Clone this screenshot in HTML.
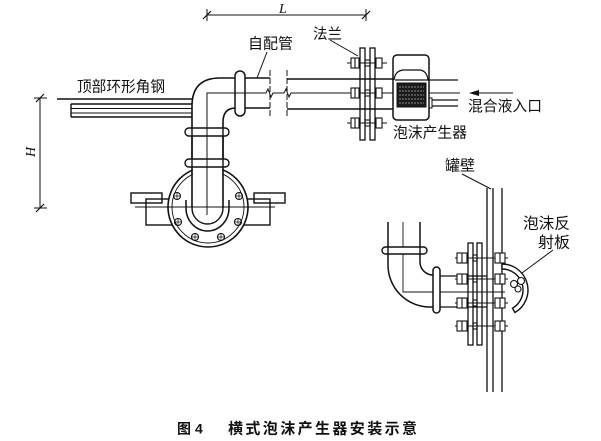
<!DOCTYPE html>
<html><head><meta charset="utf-8">
<style>
html,body{margin:0;padding:0;background:#fff;}
svg{display:block}
text{font-family:"Liberation Sans","Noto Sans CJK SC",sans-serif;fill:#111;}
</style></head><body>
<svg width="601" height="441" viewBox="0 0 601 441" xmlns="http://www.w3.org/2000/svg">
<rect width="601" height="441" fill="#fff"/>
<g stroke="#111" stroke-width="1.4" fill="none">

<!-- L dimension -->
<line x1="207" y1="15" x2="366" y2="15" stroke-width="1"/>
<line x1="207" y1="9" x2="207" y2="21" stroke-width="1"/>
<line x1="366" y1="9" x2="366" y2="21" stroke-width="1"/>
<line x1="203" y1="19" x2="211" y2="11" stroke-width="1.2"/>
<line x1="362" y1="19" x2="370" y2="11" stroke-width="1.2"/>

<!-- H dimension -->
<line x1="40" y1="98" x2="40" y2="208" stroke-width="1"/>
<line x1="34" y1="98" x2="47" y2="98" stroke-width="1"/>
<line x1="34" y1="208" x2="47" y2="208" stroke-width="1"/>
<line x1="36" y1="102" x2="44" y2="94" stroke-width="1.2"/>
<line x1="36" y1="212" x2="44" y2="204" stroke-width="1.2"/>

<!-- angle steel -->
<line x1="57" y1="99" x2="193" y2="99"/>
<line x1="71" y1="104" x2="192" y2="104"/>
<line x1="71" y1="108.5" x2="192" y2="108.5" stroke-width="1"/>
<line x1="71" y1="113" x2="192" y2="113" stroke-width="1"/>
<line x1="71" y1="117" x2="192" y2="117"/>
<line x1="71" y1="104" x2="71" y2="117"/>

<!-- bottom view brackets -->
<rect x="131" y="193" width="31" height="10"/>
<rect x="146" y="199" width="28" height="26"/>
<rect x="254" y="193" width="31" height="10"/>
<rect x="242" y="199" width="28" height="26"/>

<!-- bottom view flange circle -->
<circle cx="208" cy="207" r="40" fill="#fff" stroke-width="1.6"/>
<circle cx="208" cy="207" r="36" stroke-width="0.9"/>
<g stroke-width="1.1">
<circle cx="177" cy="196" r="3.5"/><circle cx="239" cy="196" r="3.5"/>
<circle cx="178" cy="222" r="3.5"/><circle cx="238" cy="222" r="3.5"/>
<circle cx="195" cy="237" r="3.5"/><circle cx="221" cy="237" r="3.5"/>
<path d="M174,196h6M177,193v6M236,196h6M239,193v6M175,222h6M178,219v6M235,222h6M238,219v6M192,237h6M195,234v6M218,237h6M221,234v6" stroke-width="0.7"/>
</g>
<rect x="192.8" y="160" width="29.4" height="50" fill="#fff" stroke="none"/>
<path d="M186,200 L186,208 A21.5,23 0 0 0 229,208 L229,200" stroke-width="1.5"/>
<path d="M192,208 A15.5,16 0 0 0 223,208"/>

<!-- elbow top-left -->
<path d="M192,208 L192,106 Q192,78 220,78 L235,78" stroke-width="1.6"/>
<path d="M223,208 L223,122 Q223,108 236,108" stroke-width="1.6"/>
<rect x="185" y="128" width="44" height="8" rx="4" fill="#fff"/>
<rect x="185" y="159" width="44" height="8" rx="4" fill="#fff"/>
<line x1="192" y1="128" x2="192" y2="167"/>
<line x1="223" y1="128" x2="223" y2="167"/>
<rect x="235" y="71" width="10" height="45" rx="5" fill="#fff" stroke-width="1.5"/>
<line x1="245" y1="78" x2="270" y2="78"/>
<line x1="245" y1="108" x2="270" y2="108"/>
<line x1="287" y1="79" x2="393" y2="79" stroke-width="1.5"/>
<line x1="287" y1="109" x2="393" y2="109" stroke-width="1.5"/>
<line x1="270" y1="70" x2="270" y2="116" stroke-width="1" stroke-dasharray="6 2"/>
<line x1="287" y1="70" x2="287" y2="116" stroke-width="1" stroke-dasharray="6 2"/>

<!-- centerlines -->
<path d="M207,215 L207,93 L266,93 L268,89 L271,97 L273,93 L284,93 L286,89 L289,97 L291,93 L460,93" stroke-width="1"/>
<line x1="135" y1="207" x2="275" y2="207" stroke-width="0.9"/>

<!-- flange plates top -->
<rect x="360" y="48" width="5" height="92" stroke-width="1.3"/>
<rect x="370" y="48" width="5" height="92" stroke-width="1.3"/>
<g stroke-width="1.1">
<line x1="347" y1="63" x2="387" y2="63"/>
<line x1="347" y1="93" x2="387" y2="93"/>
<line x1="347" y1="123" x2="387" y2="123"/>
<rect x="351" y="58" width="8" height="10" fill="#fff"/><line x1="355" y1="58" x2="355" y2="68"/>
<rect x="351" y="88" width="8" height="10" fill="#fff"/><line x1="355" y1="88" x2="355" y2="98"/>
<rect x="351" y="118" width="8" height="10" fill="#fff"/><line x1="355" y1="118" x2="355" y2="128"/>
<rect x="376" y="58" width="6" height="10" fill="#fff"/>
<rect x="376" y="88" width="6" height="10" fill="#fff"/>
<rect x="376" y="118" width="6" height="10" fill="#fff"/>
<rect x="365" y="60" width="5" height="6"/>
<rect x="365" y="90" width="5" height="6"/>
<rect x="365" y="120" width="5" height="6"/>
</g>

<!-- foam generator -->
<rect x="393" y="55" width="36" height="65" rx="4" fill="#fff" stroke-width="1.5"/>
<path d="M394,80 Q395,71 403,70 L420,70 Q427,71 428,80" stroke-width="1.2"/>
<line x1="395" y1="80" x2="458" y2="80" stroke-width="1.3"/>
<line x1="429" y1="93" x2="460" y2="93" stroke-width="1"/>
<rect x="397" y="83" width="29" height="24" fill="#1c1c1c" stroke-width="1"/>
<g stroke="#aaa" stroke-width="0.7" stroke-dasharray="2 1">
<line x1="399" y1="87" x2="424" y2="87"/>
<line x1="399" y1="91" x2="424" y2="91"/>
<line x1="399" y1="95" x2="424" y2="95"/>
<line x1="399" y1="99" x2="424" y2="99"/>
<line x1="399" y1="103" x2="424" y2="103"/>
</g>
<rect x="429" y="98" width="3" height="10" stroke-width="1"/>
<line x1="432" y1="100" x2="458" y2="100" stroke-width="1.2"/>
<line x1="432" y1="106" x2="458" y2="106" stroke-width="1.2"/>

<!-- inlet arrow -->
<line x1="472" y1="93" x2="513" y2="93" stroke-width="1.1"/>
<polygon points="469,93 479,90 479,96" fill="#111" stroke="none"/>

<!-- leaders -->
<line x1="330" y1="40" x2="358" y2="56" stroke-width="1"/>
<line x1="267" y1="52" x2="257" y2="78" stroke-width="1"/>
<line x1="462" y1="174" x2="491" y2="189" stroke-width="1"/>
<line x1="553" y1="250" x2="522" y2="273" stroke-width="1"/>

<!-- right detail: tank wall -->
<line x1="487" y1="188" x2="487" y2="392" stroke-width="1.3"/>
<line x1="493" y1="188" x2="493" y2="392" stroke-width="1.3"/>
<line x1="502" y1="188" x2="502" y2="392" stroke-width="1.3"/>

<!-- right detail pipe -->
<path d="M388,222 L388,265 A42,42 0 0 0 430,307 L433,307" stroke-width="1.5"/>
<path d="M420,222 L420,262 A13,13 0 0 0 433,275" stroke-width="1.5"/>
<path d="M403,222 L403,292 L505,292" stroke-width="0.9"/>
<rect x="382" y="247" width="45" height="7" rx="3.5" fill="#fff"/>
<line x1="388" y1="247" x2="388" y2="254"/>
<line x1="420" y1="247" x2="420" y2="254"/>
<rect x="433" y="267" width="7" height="46" rx="3.5" fill="#fff" stroke-width="1.5"/>
<line x1="440" y1="276" x2="487" y2="276" stroke-width="1.3"/>
<line x1="440" y1="307" x2="487" y2="307" stroke-width="1.3"/>

<!-- right plates -->
<rect x="468" y="243" width="5" height="102" stroke-width="1.3"/>
<rect x="477" y="243" width="5" height="102" stroke-width="1.3"/>
<g stroke-width="1.1">
<line x1="455" y1="258" x2="508" y2="258"/>
<line x1="455" y1="279" x2="508" y2="279"/>
<line x1="455" y1="303" x2="508" y2="303"/>
<line x1="455" y1="326" x2="508" y2="326"/>
<rect x="457" y="253" width="10" height="10" fill="#fff"/><line x1="462" y1="253" x2="462" y2="263"/>
<rect x="457" y="274" width="10" height="10" fill="#fff"/><line x1="462" y1="274" x2="462" y2="284"/>
<rect x="457" y="298" width="10" height="10" fill="#fff"/><line x1="462" y1="298" x2="462" y2="308"/>
<rect x="457" y="321" width="10" height="10" fill="#fff"/><line x1="462" y1="321" x2="462" y2="331"/>
<rect x="495" y="253" width="10" height="10" fill="#fff"/><line x1="500" y1="253" x2="500" y2="263"/>
<rect x="495" y="274" width="10" height="10" fill="#fff"/><line x1="500" y1="274" x2="500" y2="284"/>
<rect x="495" y="298" width="10" height="10" fill="#fff"/><line x1="500" y1="298" x2="500" y2="308"/>
<rect x="495" y="321" width="10" height="10" fill="#fff"/><line x1="500" y1="321" x2="500" y2="331"/>
<rect x="473" y="255" width="4" height="6"/><rect x="473" y="276" width="4" height="6"/>
<rect x="473" y="300" width="4" height="6"/><rect x="473" y="323" width="4" height="6"/>
</g>

<!-- reflector -->
<path d="M502,264 A26,26 0 0 1 515,312.5 L512.5,308.2 A21,21 0 0 0 502,269 Z" fill="#fff" stroke-width="1.4"/>
<circle cx="514" cy="284" r="3.5" fill="#fff" stroke-width="1.1"/>
<circle cx="521" cy="281" r="3.5" fill="#fff" stroke-width="1.1"/>
<circle cx="518" cy="289" r="3" fill="#fff" stroke-width="1.1"/>
</g>

<!-- labels -->
<text x="279" y="13" font-size="14" font-style="italic" style="font-family:'Liberation Serif',serif">L</text>
<text transform="translate(35,157) rotate(-90)" font-size="14" font-style="italic" style="font-family:'Liberation Serif',serif">H</text>
<text x="248" y="48.5" font-size="15" textLength="45" lengthAdjust="spacingAndGlyphs">自配管</text>
<text x="77" y="91.5" font-size="14.7" textLength="88" lengthAdjust="spacingAndGlyphs">顶部环形角钢</text>
<text x="313" y="39" font-size="14.5" textLength="29" lengthAdjust="spacingAndGlyphs">法兰</text>
<text x="393" y="137.5" font-size="14.8" textLength="74" lengthAdjust="spacingAndGlyphs">泡沫产生器</text>
<text x="468" y="111" font-size="14.8" textLength="74" lengthAdjust="spacingAndGlyphs">混合液入口</text>
<text x="445" y="170.5" font-size="15" textLength="30" lengthAdjust="spacingAndGlyphs">罐壁</text>
<text x="523" y="228.5" font-size="15.5" textLength="47" lengthAdjust="spacingAndGlyphs">泡沫反</text>
<text x="538" y="247.5" font-size="15.5" textLength="32" lengthAdjust="spacingAndGlyphs">射板</text>
<text x="177" y="433.5" font-size="14" font-weight="bold">图</text>
<text x="195" y="433.5" font-size="14" font-weight="bold">4</text>
<text x="228" y="433.5" font-size="15" font-weight="bold" textLength="189" lengthAdjust="spacing">横式泡沫产生器安装示意</text>
</svg>
</body></html>
